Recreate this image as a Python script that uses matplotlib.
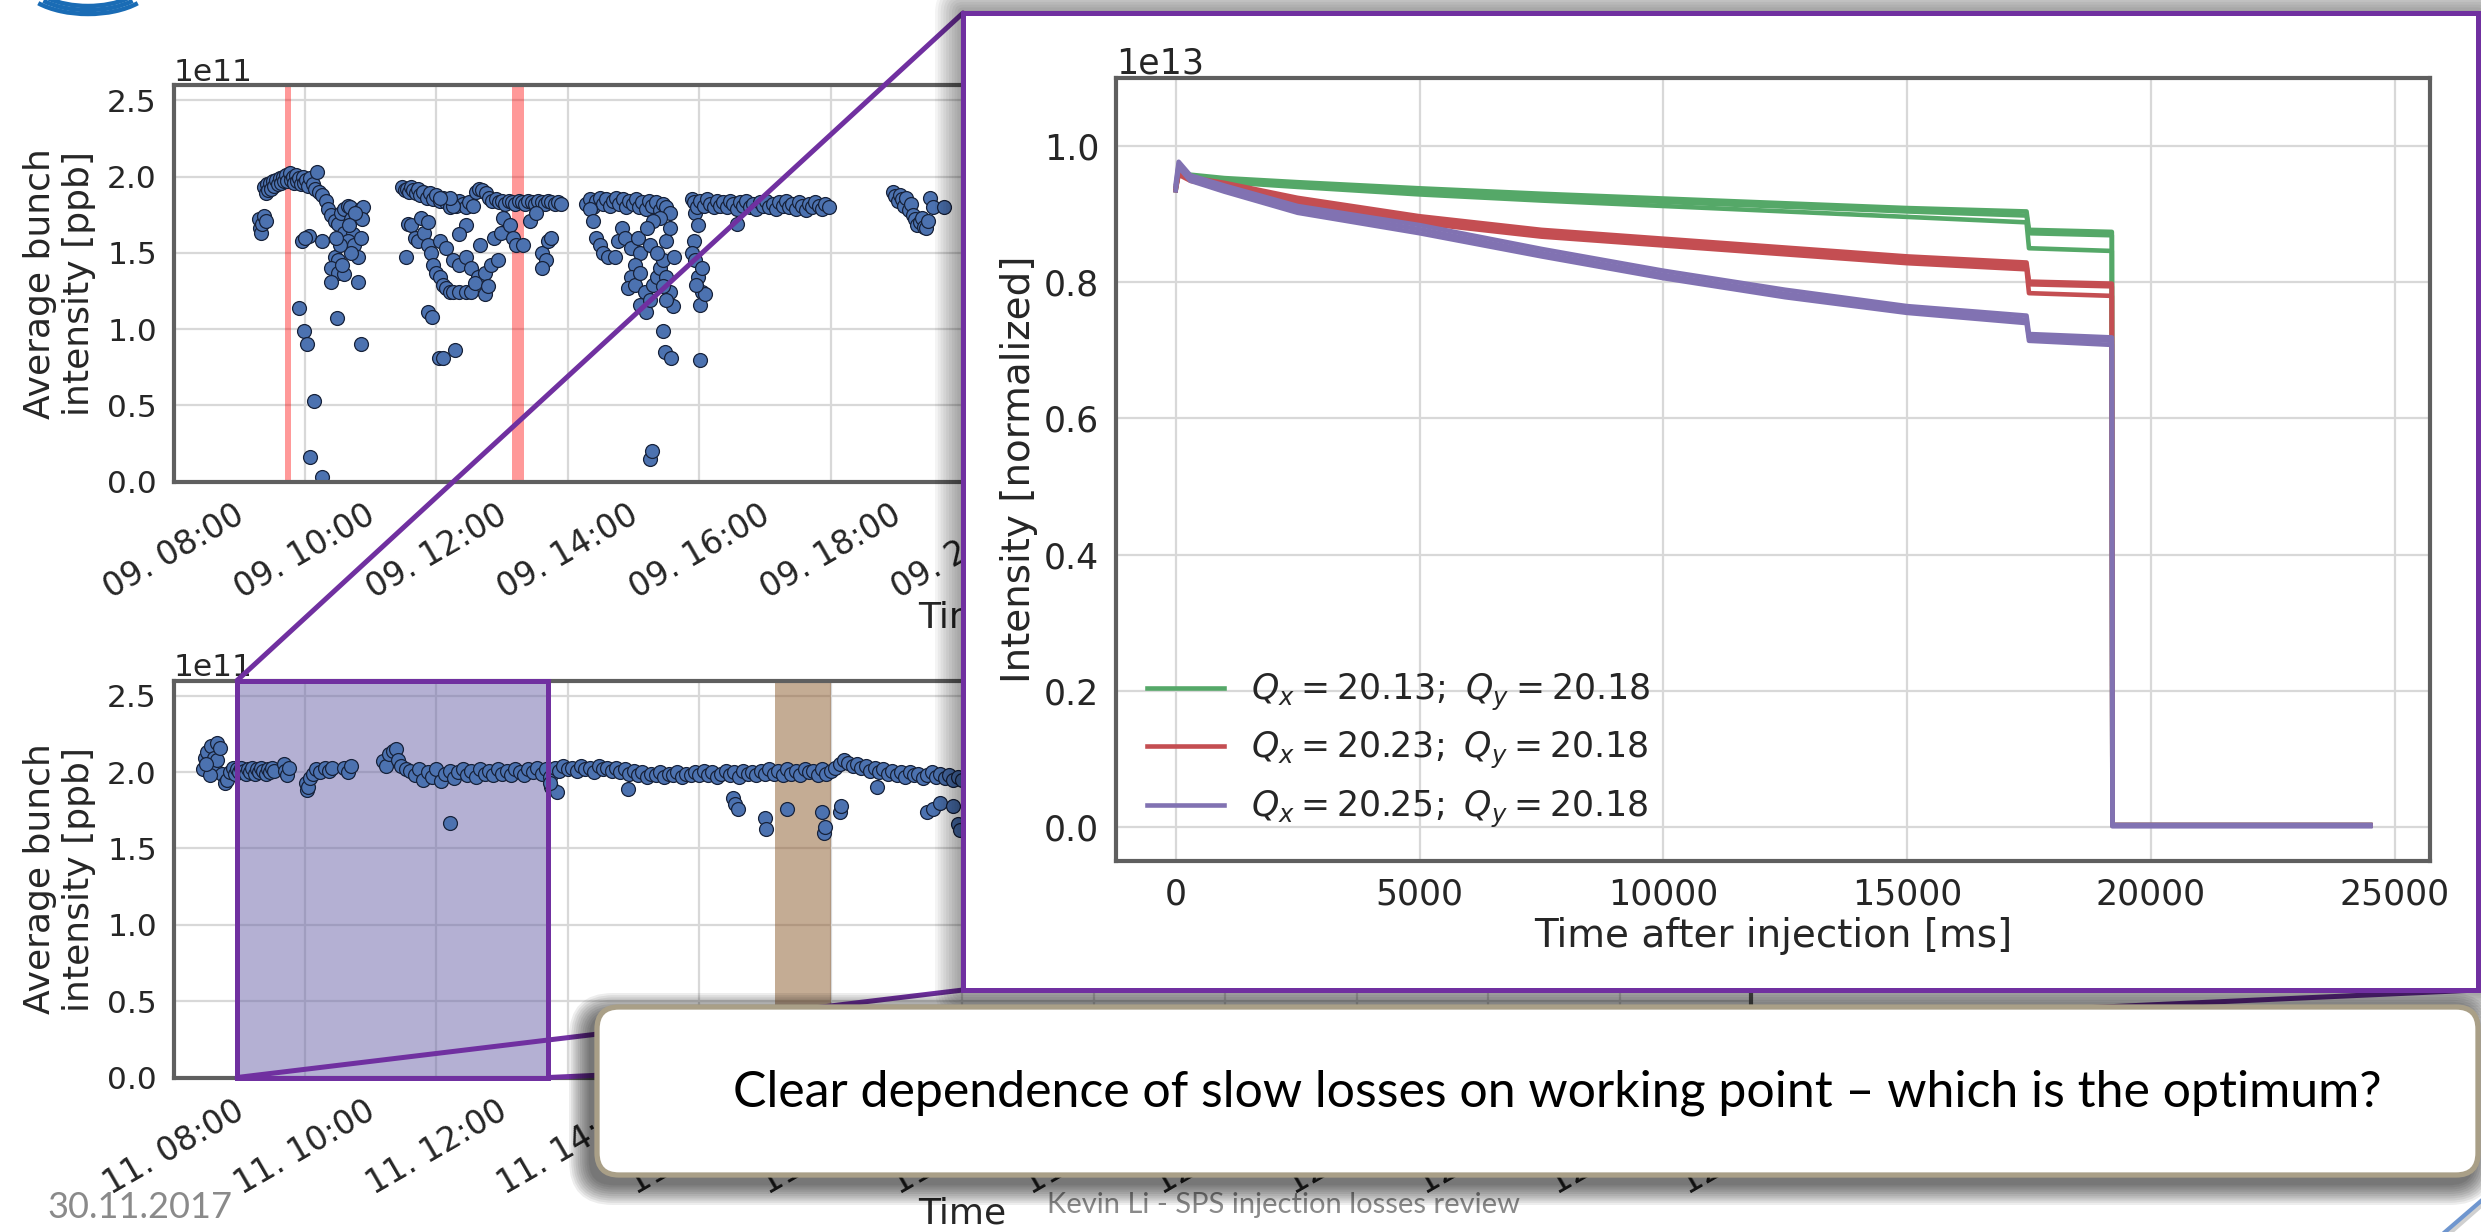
import numpy as np
import pandas as pd
import matplotlib.pyplot as plt
import matplotlib.dates as mdates
from matplotlib.patches import ConnectionPatch, FancyBboxPatch, Rectangle, Arc
from matplotlib.lines import Line2D
from matplotlib.transforms import IdentityTransform

W, H, DPI = 2481, 1232, 100

# 09.11. -- (minutes after 08:00, average bunch intensity in 1e11 ppb)
top_run1 = [(78, 1.72), (79, 1.66), (80, 1.63), (81, 1.69), (83, 1.74), (84, 1.71),
            (83, 1.93), (84, 1.89), (85, 1.95), (86, 1.91), (88, 1.96), (89, 1.92), (91, 1.97),
            (92, 1.94), (94, 1.98), (95, 1.95), (97, 1.99), (98, 1.96), (100, 2.00), (101, 1.97),
            (103, 2.01), (104, 1.97), (106, 2.02), (107, 1.98), (109, 2.00), (110, 1.96), (112, 2.01),
            (113, 1.97), (115, 1.99), (116, 1.95), (118, 2.00), (119, 1.96), (121, 1.98), (123, 1.94),
            (125, 1.99), (127, 1.95), (129, 1.92), (131, 2.03), (133, 1.90), (136, 1.88),
            (139, 1.84), (141, 1.79), (144, 1.75), (147, 1.71), (150, 1.69), (153, 1.76), (156, 1.79),
            (159, 1.81), (161, 1.80), (162, 1.72), (156, 1.63), (164, 1.62), (159, 1.58), (165, 1.55),
            (168, 1.47), (162, 1.50), (147, 1.47), (150, 1.45), (144, 1.40), (150, 1.37), (156, 1.36),
            (168, 1.31), (144, 1.31), (171, 1.79), (173, 1.80), (172, 1.72), (171, 1.60), (166, 1.76),
            (152, 1.55), (148, 1.60), (160, 1.68), (154, 1.42),
            (117, 1.58), (124, 1.61), (136, 1.58), (120, 1.60),
            (115, 1.14), (119, 0.99), (122, 0.90), (128, 0.53), (125, 0.16), (136, 0.03),
            (149, 1.07), (171, 0.90)]
top_run2 = [(209, 1.93), (211, 1.91), (213, 1.92), (215, 1.90), (217, 1.93), (219, 1.91), (221, 1.89),
            (223, 1.92), (225, 1.88), (228, 1.90), (231, 1.86), (234, 1.89), (237, 1.85), (240, 1.88),
            (243, 1.84), (246, 1.86), (249, 1.83), (252, 1.80), (255, 1.83), (258, 1.81), (261, 1.84),
            (264, 1.82), (267, 1.80), (270, 1.83), (273, 1.81), (276, 1.90), (279, 1.92), (282, 1.91),
            (285, 1.89), (288, 1.86), (291, 1.84), (294, 1.85), (297, 1.83), (300, 1.84), (303, 1.82),
            (306, 1.84), (309, 1.83), (312, 1.82), (315, 1.84), (318, 1.83), (321, 1.82), (324, 1.84),
            (327, 1.83), (330, 1.82), (333, 1.84), (336, 1.83), (339, 1.82), (342, 1.84), (345, 1.83),
            (348, 1.82), (351, 1.83), (354, 1.82),
            (212, 1.47), (214, 1.69), (217, 1.68), (220, 1.60), (223, 1.58), (226, 1.73), (229, 1.63),
            (232, 1.55), (235, 1.50), (237, 1.42), (240, 1.37), (243, 1.34), (246, 1.29), (249, 1.27),
            (252, 1.24), (255, 1.24), (261, 1.24), (267, 1.24), (272, 1.24), (284, 1.23), (243, 1.58),
            (249, 1.53), (255, 1.45), (261, 1.42), (267, 1.47), (272, 1.40), (278, 1.34), (284, 1.37),
            (290, 1.42), (296, 1.45), (293, 1.60), (299, 1.63), (301, 1.73), (307, 1.68), (310, 1.60),
            (313, 1.55), (319, 1.55), (325, 1.71), (331, 1.76), (336, 1.50), (340, 1.45), (336, 1.40),
            (342, 1.58), (345, 1.60), (255, 1.81), (267, 1.68), (252, 1.86), (243, 1.86), (232, 1.70),
            (261, 1.62), (275, 1.30), (287, 1.28), (280, 1.55),
            (232, 1.11), (236, 1.08), (242, 0.81), (246, 0.81), (257, 0.86)]
top_run3 = [(377, 1.82), (380, 1.85), (383, 1.80), (386, 1.84), (389, 1.86), (392, 1.82), (395, 1.85),
            (398, 1.81), (401, 1.84), (404, 1.86), (407, 1.82), (410, 1.85), (413, 1.80), (416, 1.84),
            (419, 1.82), (422, 1.85), (425, 1.80), (428, 1.83), (431, 1.79), (434, 1.84), (437, 1.81),
            (440, 1.83), (444, 1.78), (447, 1.82), (450, 1.80), (453, 1.76),
            (380, 1.79), (383, 1.71), (386, 1.60), (389, 1.55), (392, 1.50), (397, 1.47), (403, 1.47),
            (406, 1.58), (409, 1.66), (412, 1.60), (418, 1.53), (424, 1.60), (426, 1.50), (421, 1.42),
            (418, 1.34), (415, 1.27), (421, 1.29), (426, 1.37), (430, 1.24), (426, 1.16), (431, 1.11),
            (435, 1.19), (438, 1.29), (441, 1.34), (444, 1.40), (447, 1.45), (450, 1.34), (453, 1.24),
            (456, 1.15), (450, 1.58), (453, 1.66), (444, 1.73), (438, 1.71), (432, 1.66), (435, 1.55),
            (441, 1.50), (457, 1.47), (447, 1.28), (450, 1.19),
            (473, 1.85), (476, 1.76), (479, 1.68), (475, 1.58), (473, 1.50), (476, 1.45), (479, 1.34),
            (482, 1.24), (481, 1.16), (485, 1.23), (477, 1.29), (482, 1.40),
            (447, 0.99), (449, 0.85), (454, 0.81), (481, 0.80), (435, 0.15), (437, 0.20)]
top_run4 = [(475, 1.83), (478, 1.80), (481, 1.84), (484, 1.81), (487, 1.85), (490, 1.82), (493, 1.80),
            (496, 1.84), (499, 1.81), (502, 1.83), (505, 1.80), (508, 1.84), (511, 1.82), (514, 1.79),
            (517, 1.83), (520, 1.81), (523, 1.84), (526, 1.80), (529, 1.82), (532, 1.79), (535, 1.83),
            (538, 1.81), (541, 1.84), (544, 1.80), (547, 1.82), (550, 1.79), (553, 1.83), (556, 1.81),
            (559, 1.84), (562, 1.80), (565, 1.82), (568, 1.79), (571, 1.83), (574, 1.81), (577, 1.78),
            (580, 1.82), (583, 1.80), (586, 1.83), (589, 1.81), (592, 1.79), (595, 1.82), (598, 1.80),
            (514, 1.69)]
top_run5 = [(657, 1.90), (659, 1.87), (661, 1.84), (663, 1.88), (665, 1.85), (667, 1.81), (669, 1.86),
            (671, 1.78), (673, 1.82), (675, 1.75), (677, 1.72), (679, 1.68), (681, 1.70), (683, 1.73),
            (685, 1.67), (687, 1.66), (689, 1.71), (691, 1.86), (693, 1.80), (703, 1.80)]

# 11.11. -- same units
bot_runs = [(27, 2.02), (29, 2.09), (31, 2.13), (34, 2.17), (37, 2.09), (38, 2.02), (40, 2.19),
            (40, 2.08), (42, 2.16), (44, 1.99), (33, 1.98), (47, 1.93), (49, 1.95), (30, 2.05),
            (52, 2.00), (54, 2.03), (56, 1.99), (58, 2.02), (60, 2.00), (62, 2.03), (64, 2.01),
            (66, 1.99), (68, 2.02), (70, 2.00), (72, 2.03), (74, 1.99), (76, 2.02), (78, 2.00),
            (80, 2.03), (82, 2.01), (84, 1.99), (86, 2.02), (88, 2.00), (90, 2.03), (92, 2.01),
            (101, 2.05), (102, 2.01), (104, 1.98), (105, 2.03),
            (121, 1.93), (122, 1.88), (123, 1.90), (125, 1.96), (127, 1.99), (130, 2.02), (134, 2.00),
            (138, 2.03), (142, 2.01), (145, 2.03), (156, 2.03), (159, 2.00), (162, 2.04),
            (191, 2.07), (194, 2.04), (197, 2.12), (200, 2.14), (203, 2.15), (205, 2.08), (208, 2.04),
            (212, 2.02)]
bot_band = [(216, 2.01), (220, 1.98), (224, 2.02), (228, 1.95), (232, 2.00), (236, 1.97), (240, 2.02),
            (244, 1.94), (248, 1.99), (252, 2.01), (256, 1.96), (260, 2.00), (264, 2.02), (268, 1.98),
            (272, 2.01), (276, 1.97), (280, 2.02), (284, 1.99), (288, 2.01), (292, 1.98), (296, 2.02),
            (300, 1.99), (304, 2.01), (308, 1.98), (312, 2.02), (316, 2.00), (320, 1.98), (324, 2.02),
            (328, 2.00), (332, 2.03), (336, 1.99), (340, 2.02), (344, 1.97), (348, 2.03), (352, 2.01),
            (356, 2.04), (360, 2.02), (364, 2.03), (368, 2.01), (372, 2.04), (376, 2.02), (380, 2.03),
            (384, 2.00), (388, 2.04), (392, 2.02), (396, 2.03), (400, 2.01), (404, 2.03), (408, 2.00),
            (412, 2.02), (416, 1.99), (420, 2.01), (424, 1.98), (428, 2.00), (432, 1.97), (436, 1.99),
            (440, 1.98), (444, 2.00), (448, 1.97), (452, 1.99), (456, 1.98), (460, 2.00), (464, 1.97),
            (468, 1.99), (472, 1.98), (476, 2.00), (480, 1.98), (484, 2.01), (488, 1.98), (492, 2.00),
            (496, 1.97), (500, 1.99), (504, 2.01), (508, 1.98), (512, 2.00), (516, 1.97), (520, 2.01),
            (524, 1.99), (528, 2.00), (532, 1.98), (536, 2.01), (540, 1.99), (544, 2.02), (548, 1.99),
            (552, 2.01), (556, 1.98), (560, 2.02), (564, 1.99), (568, 2.01), (572, 1.98), (576, 2.02),
            (580, 2.00), (584, 2.01), (588, 1.98), (592, 2.02), (596, 1.99), (600, 2.01), (604, 2.03),
            (608, 2.05), (612, 2.08), (616, 2.06), (620, 2.04), (624, 2.05), (628, 2.03), (632, 2.04),
            (636, 2.01), (640, 2.03), (644, 2.00), (648, 2.02), (652, 1.99), (656, 2.01), (660, 1.98),
            (664, 2.00), (668, 1.97), (672, 2.00), (676, 1.98), (680, 1.99), (684, 1.96), (688, 1.98),
            (692, 2.00), (696, 1.97), (700, 1.99), (704, 1.96), (708, 1.98), (712, 1.95), (716, 1.97),
            (720, 1.95)]
bot_drops = [(252, 1.67), (345, 1.90), (350, 1.87), (344, 1.93), (415, 1.89), (511, 1.83), (513, 1.79),
             (515, 1.76), (540, 1.70), (541, 1.63), (560, 1.76), (592, 1.74), (594, 1.60), (595, 1.64),
             (608, 1.74), (609, 1.78), (642, 1.90), (688, 1.74), (693, 1.76), (700, 1.80), (716, 1.66),
             (718, 1.62), (712, 1.78), (725, 1.59)]

# marked periods (minutes after 08:00)
top_marks = [(102, 107), (309, 320)]
bot_mark = (549, 600)
bot_zoom = (58, 342)

# beam intensity after injection, three shots per working point [1e13]
inj_t = [0, 60, 300, 1000, 2500, 5000, 7500, 10000, 12500, 15000, 17450, 17500, 19200, 19210, 24500]
green_shots = [[0.935, 0.962, 0.958, 0.953, 0.947, 0.938, 0.930, 0.923, 0.916, 0.909, 0.904, 0.877, 0.874, 0.003, 0.003],
               [0.940, 0.960, 0.955, 0.950, 0.943, 0.933, 0.925, 0.918, 0.911, 0.904, 0.898, 0.872, 0.869, 0.002, 0.002],
               [0.938, 0.958, 0.953, 0.947, 0.940, 0.929, 0.920, 0.912, 0.904, 0.896, 0.888, 0.850, 0.846, 0.002, 0.002]]
red_shots = [[0.940, 0.962, 0.954, 0.946, 0.924, 0.897, 0.877, 0.864, 0.851, 0.838, 0.829, 0.801, 0.798, 0.003, 0.003],
             [0.938, 0.960, 0.951, 0.942, 0.919, 0.892, 0.872, 0.859, 0.846, 0.833, 0.824, 0.797, 0.794, 0.002, 0.002],
             [0.935, 0.958, 0.949, 0.939, 0.915, 0.887, 0.867, 0.854, 0.841, 0.828, 0.819, 0.784, 0.780, 0.002, 0.002]]
purple_shots = [[0.945, 0.977, 0.957, 0.942, 0.912, 0.884, 0.849, 0.817, 0.789, 0.765, 0.751, 0.724, 0.719, 0.003, 0.003],
                [0.940, 0.973, 0.953, 0.937, 0.907, 0.878, 0.843, 0.811, 0.783, 0.760, 0.745, 0.719, 0.714, 0.002, 0.002],
                [0.935, 0.969, 0.949, 0.933, 0.902, 0.872, 0.838, 0.806, 0.778, 0.755, 0.740, 0.714, 0.708, 0.001, 0.001]]
tune_labels = [r'$Q_x = 20.13;\ Q_y = 20.18$', r'$Q_x = 20.23;\ Q_y = 20.18$', r'$Q_x = 20.25;\ Q_y = 20.18$']

plt.rcParams.update({
    'font.family': 'DejaVu Sans',
    'mathtext.fontset': 'dejavusans',
    'axes.edgecolor': '#5f5f5f',
    'axes.linewidth': 3.0,
    'axes.grid': True,
    'axes.axisbelow': True,
    'grid.color': '#d8d8d8',
    'grid.linewidth': 1.6,
    'xtick.major.size': 0,
    'ytick.major.size': 0,
    'xtick.major.pad': 12,
    'ytick.major.pad': 12,
    'xtick.color': '#262626',
    'ytick.color': '#262626',
    'text.color': '#262626',
    'axes.labelcolor': '#262626',
})

PURPLE = '#7030a0'
fig = plt.figure(figsize=(W / DPI, H / DPI), dpi=DPI)


def box(x0, y0, x1, y1):
    # pixel box measured from the top-left corner -> figure fraction rect
    return [x0 / W, 1 - y1 / H, (x1 - x0) / W, (y1 - y0) / H]


def shadow(x0, y0, x1, y1, spread, layers, alpha, dx=0, dy=0, rad=0, z=1.5):
    for k in range(layers):
        g = spread * (k + 1) / layers
        fig.add_artist(FancyBboxPatch(
            (x0 + dx - g, H - y1 - dy - g), x1 - x0 + 2 * g, y1 - y0 + 2 * g,
            boxstyle=f'round,pad=0,rounding_size={rad + g}', transform=IdentityTransform(),
            facecolor='black', edgecolor='none', alpha=alpha, zorder=z))


def intensity_panel(ax, day, groups):
    t0 = pd.Timestamp(day) + pd.Timedelta(hours=8)
    pts = [p for g in groups for p in g]
    mins = [p[0] for p in pts]
    vals = np.array([p[1] for p in pts]) * 1e11
    t = (t0 + pd.to_timedelta(mins, unit='m')).to_pydatetime()
    ax.scatter(t, vals, s=100, c='#4c72b0', edgecolors='#17223a', linewidths=0.9, zorder=2)
    ax.set_xlim(t0.to_pydatetime(), (t0 + pd.Timedelta(hours=24)).to_pydatetime())
    ax.set_ylim(0, 2.6e11)
    ax.set_yticks(np.array([0, 0.5, 1.0, 1.5, 2.0, 2.5]) * 1e11)
    ax.xaxis.set_major_locator(mdates.HourLocator(byhour=range(0, 24, 2)))
    ax.xaxis.set_major_formatter(mdates.DateFormatter('%d. %H:%M'))
    ax.tick_params(axis='x', labelrotation=30, labelsize=23.5)
    ax.tick_params(axis='y', labelsize=22.5)
    ax.yaxis.get_offset_text().set_fontsize(22.5)
    ax.set_ylabel('Average bunch\nintensity [ppb]', fontsize=26, labelpad=8)
    ax.set_xlabel('Time', fontsize=26, labelpad=-3)
    return t0


def at(t0, minutes):
    return (t0 + pd.Timedelta(minutes=minutes)).to_pydatetime()


ax_top = fig.add_axes(box(173.5, 85, 1751, 481.6), zorder=0)
t_top = intensity_panel(ax_top, '2017-11-09', [top_run1, top_run2, top_run3, top_run4, top_run5])
for a, b in top_marks:
    ax_top.axvspan(at(t_top, a), at(t_top, b), color='red', alpha=0.4, lw=0, zorder=1)

ax_bot = fig.add_axes(box(173.5, 680.5, 1751, 1077.5), zorder=0)
t_bot = intensity_panel(ax_bot, '2017-11-11', [bot_runs, bot_band, bot_drops])
ax_bot.axvspan(at(t_bot, bot_mark[0]), at(t_bot, bot_mark[1]), color='#8b5a2b', alpha=0.5, lw=0, zorder=1)
z0, z1 = mdates.date2num(at(t_bot, bot_zoom[0])), mdates.date2num(at(t_bot, bot_zoom[1]))
ax_bot.axvspan(z0, z1, color='#6a63a8', alpha=0.5, lw=0, zorder=1.5)
ax_bot.add_patch(Rectangle((z0, 0), z1 - z0, 2.6e11, fill=False, edgecolor=PURPLE, lw=3.6,
                           clip_on=False, zorder=3))

# zoomed panel with its frame and shadow
shadow(963, 13, 2478, 990, spread=28, layers=10, alpha=0.045)
panel = fig.add_axes(box(963, 13, 2478, 990), zorder=2)
panel.set_xticks([])
panel.set_yticks([])
panel.grid(False)
panel.set_facecolor('white')
for s in panel.spines.values():
    s.set_color(PURPLE)
    s.set_linewidth(3.6)

for xa, ya, xb in [(z0, 2.6e11, (0, 1)), (z0, 0, (0, 0)), (z1, 0, (1, 0))]:
    fig.add_artist(ConnectionPatch(xyA=(xa, ya), coordsA=ax_bot.transData, xyB=xb,
                                   coordsB=panel.transAxes, color=PURPLE, lw=3.6, zorder=1))

ax_in = fig.add_axes(box(1116, 78, 2430, 861), zorder=3)
for shots, col, lab in [(green_shots, '#55a868', tune_labels[0]),
                        (red_shots, '#c44e52', tune_labels[1]),
                        (purple_shots, '#8172b2', tune_labels[2])]:
    for i, shot in enumerate(shots):
        ax_in.plot(inj_t, np.array(shot) * 1e13, color=col, lw=3.3,
                   label=lab if i == 0 else '_nolegend_')
ax_in.set_xlim(-1225, 25725)
ax_in.set_ylim(-0.05e13, 1.1e13)
ax_in.set_xticks([0, 5000, 10000, 15000, 20000, 25000])
ax_in.set_yticks(np.array([0, 0.2, 0.4, 0.6, 0.8, 1.0]) * 1e13)
ax_in.tick_params(labelsize=25)
ax_in.yaxis.get_offset_text().set_fontsize(25)
ax_in.set_xlabel('Time after injection [ms]', fontsize=28)
ax_in.set_ylabel('Intensity [normalized]', fontsize=28)
ax_in.legend(loc='lower left', fontsize=25, handlelength=2.2, labelspacing=0.5, frameon=False)

# caption box
shadow(597, 1007, 2478, 1175, spread=22, layers=10, alpha=0.07, dx=-6, dy=8, rad=22, z=3.5)
fig.add_artist(FancyBboxPatch((597, H - 1175), 2478 - 597, 1175 - 1007,
                              boxstyle='round,pad=0,rounding_size=22', transform=IdentityTransform(),
                              facecolor='white', edgecolor='#a99f87', lw=3.8, zorder=4))
fig.text(1557 / W, 1 - 1093 / H,
         'Clear dependence of slow losses on working point \u2013 which is the optimum?',
         ha='center', va='center', fontsize=36, family='Lato', color='black', zorder=5)

# slide footer and decorations
fig.text(47 / W, 1 - 1207 / H, '30.11.2017', ha='left', va='center', fontsize=26,
         family='Lato', color='#8a8a8a')
fig.text(1047 / W, 1 - 1205 / H, 'Kevin Li - SPS injection losses review', ha='left', va='center',
         fontsize=21, family='Lato', color='#8a8a8a')
for w, h in [(112, 52), (124, 60), (136, 68)]:
    fig.add_artist(Arc((88, H + 20), w, h, theta1=205, theta2=335, transform=IdentityTransform(),
                       color='#1a6cb5', lw=3.2))
fig.add_artist(Line2D([2449, 2481], [0, 28], transform=IdentityTransform(), color='#d0d0d0', lw=5))
fig.add_artist(Line2D([2445, 2481], [0, 31], transform=IdentityTransform(), color='#6f96cf', lw=3))

fig.savefig('out.png', dpi=DPI)
